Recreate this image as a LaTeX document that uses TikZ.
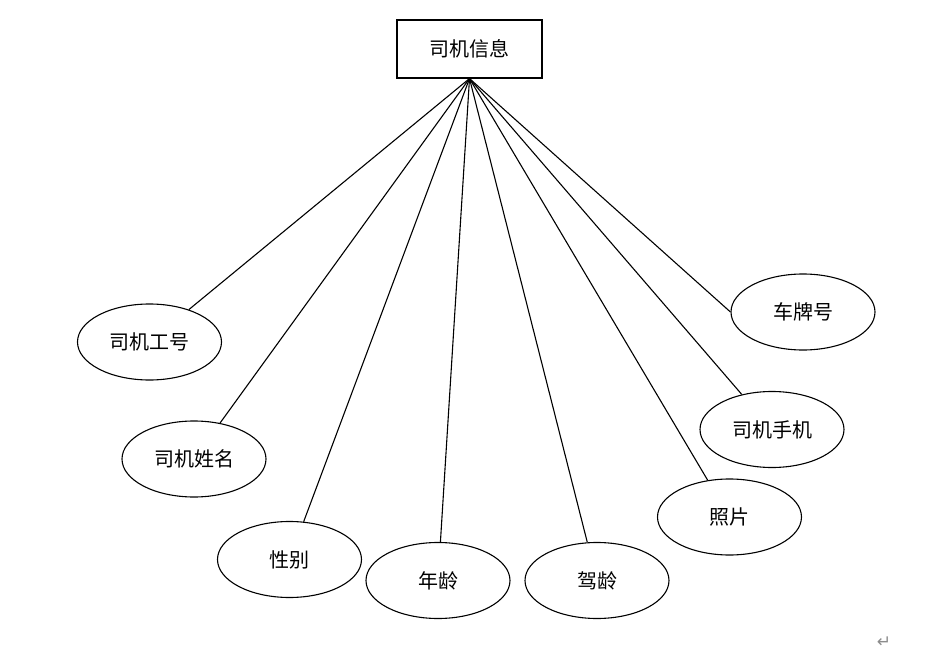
\documentclass[tikz,border=0pt]{standalone}
\usepackage{fontspec}
\newfontfamily\cjk{Noto Sans CJK SC}
\newfontfamily\symfont{DejaVu Sans}
\usetikzlibrary{shapes.geometric}

\begin{document}
\begin{tikzpicture}[x=1pt, y=-1pt, line width=1.1pt,
  font=\cjk\fontsize{20}{24}\selectfont,
  ent/.style={draw, rectangle, minimum width=145pt, minimum height=58pt, inner sep=0pt},
  attr/.style={draw, ellipse, minimum width=144pt, minimum height=76pt, inner sep=0pt},
  retmark/.style={font=\symfont\fontsize{17}{20}\selectfont, text=black!45}
]
  \useasboundingbox (0,0) rectangle (935,650);
  \node[ent] (info) at (469.5,49) {司机信息};
  \node[attr] (no)    at (149.5,342) {司机工号};
  \node[attr] (name)  at (194,459)   {司机姓名};
  \node[attr] (sex)   at (289.5,559.5) {性别};
  \node[attr] (age)   at (438,580.5) {年龄};
  \node[attr] (drive) at (597,580.5) {驾龄};
  \node[attr] (photo) at (729.5,517) {照片};
  \node[attr] (phone) at (772,429.5) {司机手机};
  \node[attr] (plate) at (803,312)   {车牌号};
  \draw (info.south) -- (no);
  \draw (info.south) -- (name);
  \draw (info.south) -- (sex);
  \draw (info.south) -- (age);
  \draw (info.south) -- (drive);
  \draw (info.south) -- (photo);
  \draw (info.south) -- (phone);
  \draw (info.south) -- (plate.west);
  \node[retmark] (ret) at (884,642) {↵};
\end{tikzpicture}
\end{document}
